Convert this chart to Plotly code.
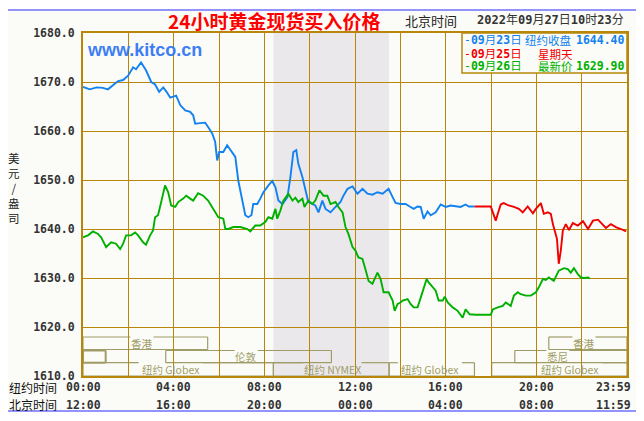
import plotly.graph_objects as go

# ---------------- data (NY time in hours, price USD/oz) ----------------
blue_hours = [0, 0.30, 0.60, 0.88, 1.10, 1.33, 1.55, 1.77, 1.99, 2.21, 2.34, 2.56, 2.78, 3.01,
              3.18, 3.36, 3.54, 3.67, 3.85, 4.11, 4.29, 4.51, 4.73, 4.86, 4.95, 5.17, 5.39, 5.52,
              5.70, 5.83, 5.92, 6.01, 6.19, 6.36, 6.50, 6.72, 6.85, 7.03, 7.16, 7.29, 7.43, 7.51,
              7.69, 7.82, 7.96, 8.18, 8.35, 8.49, 8.62, 8.80, 9.02, 9.15, 9.28, 9.41, 9.50, 9.68,
              9.81, 9.94, 10.12, 10.25, 10.39, 10.56, 10.70, 10.92, 11.14, 11.36, 11.49, 11.67,
              11.89, 12.11, 12.33, 12.55, 12.77, 12.99, 13.22, 13.48, 13.66, 13.79, 14.01, 14.23,
              14.45, 14.59, 14.76, 14.90, 15.03, 15.20, 15.34, 15.56, 15.78, 16.00, 16.22, 16.44,
              16.66, 16.88, 17.02, 17.28]
blue_values = [1669.0, 1668.5, 1668.9, 1668.8, 1668.5, 1669.4, 1670.2, 1670.4, 1671.3, 1673.0,
               1672.6, 1674.0, 1672.4, 1670.0, 1669.5, 1668.0, 1668.9, 1668.1, 1666.8, 1667.2,
               1665.3, 1664.2, 1663.9, 1663.2, 1661.5, 1661.6, 1661.7, 1660.8, 1659.5, 1657.8,
               1654.0, 1655.7, 1655.7, 1657.1, 1656.1, 1654.7, 1649.9, 1645.8, 1642.8, 1642.4,
               1642.8, 1645.1, 1645.1, 1646.2, 1647.5, 1648.9, 1649.8, 1648.5, 1645.8, 1645.1,
               1646.5, 1650.6, 1655.7, 1656.1, 1653.3, 1650.6, 1647.9, 1645.5, 1645.1, 1644.8,
               1643.4, 1645.8, 1644.1, 1643.4, 1644.5, 1645.5, 1646.8, 1648.2, 1648.7, 1647.2,
               1648.2, 1647.2, 1647.0, 1647.5, 1647.2, 1648.2, 1646.5, 1645.3, 1645.1, 1645.1,
               1644.5, 1644.1, 1644.6, 1644.5, 1642.1, 1643.6, 1642.8, 1643.4, 1645.0, 1644.5,
               1644.8, 1644.6, 1644.5, 1645.0, 1644.6, 1644.6]

red_hours = [17.28, 17.99, 18.08, 18.21, 18.30, 18.43, 18.56, 18.78, 19.01, 19.23, 19.40, 19.62,
             19.85, 19.98, 20.20, 20.33, 20.51, 20.64, 20.73, 20.82, 20.91, 20.99, 21.08, 21.17,
             21.30, 21.44, 21.61, 21.83, 22.06, 22.28, 22.50, 22.72, 22.94, 23.07, 23.29, 23.51,
             23.73, 23.96]
red_values = [1644.6, 1644.6, 1643.4, 1641.7, 1643.1, 1645.0, 1645.3, 1644.8, 1644.5, 1644.1,
              1643.4, 1644.6, 1643.2, 1644.1, 1645.3, 1643.1, 1643.4, 1643.1, 1641.0, 1639.3,
              1638.0, 1632.9, 1635.6, 1639.7, 1641.0, 1639.8, 1641.2, 1640.7, 1641.6, 1640.0,
              1641.7, 1641.9, 1640.7, 1640.2, 1641.0, 1640.4, 1640.0, 1639.5]

green_hours = [0, 0.22, 0.44, 0.66, 0.80, 1.02, 1.24, 1.46, 1.64, 1.77, 1.90, 2.12, 2.30, 2.43,
               2.65, 2.78, 2.96, 3.09, 3.18, 3.31, 3.45, 3.62, 3.76, 3.89, 4.07, 4.20, 4.42, 4.55,
               4.73, 4.86, 5.08, 5.30, 5.52, 5.75, 5.97, 6.19, 6.28, 6.41, 6.63, 6.94, 7.25, 7.38,
               7.60, 7.82, 8.04, 8.18, 8.35, 8.49, 8.57, 8.71, 8.84, 9.06, 9.24, 9.37, 9.50, 9.68,
               9.77, 9.94, 10.12, 10.25, 10.43, 10.61, 10.78, 10.92, 11.14, 11.27, 11.45, 11.58,
               11.71, 11.89, 12.02, 12.15, 12.33, 12.46, 12.60, 12.77, 12.91, 12.99, 13.13, 13.26,
               13.48, 13.66, 13.75, 13.88, 14.01, 14.10, 14.32, 14.45, 14.59, 14.76, 14.90, 15.03,
               15.16, 15.25, 15.43, 15.56, 15.69, 15.87, 15.96, 16.09, 16.31, 16.53, 16.75, 16.88,
               17.06, 17.33, 17.99, 18.08, 18.30, 18.52, 18.65, 18.87, 19.01, 19.18, 19.31, 19.54,
               19.76, 19.98, 20.11, 20.29, 20.42, 20.55, 20.77, 20.99, 21.22, 21.39, 21.52, 21.66,
               21.83, 21.97, 22.10, 22.28, 22.36]
green_values = [1638.3, 1638.7, 1639.5, 1639.0, 1638.3, 1636.3, 1637.3, 1637.0, 1635.9, 1637.0,
                1638.7, 1638.7, 1639.3, 1638.7, 1637.3, 1636.8, 1638.7, 1639.7, 1642.4, 1642.8,
                1645.5, 1648.9, 1647.5, 1644.8, 1644.5, 1645.5, 1646.2, 1646.8, 1646.2, 1645.8,
                1647.3, 1646.8, 1645.8, 1644.1, 1642.4, 1642.1, 1640.0, 1640.0, 1640.4, 1640.4,
                1640.0, 1639.5, 1640.7, 1640.7, 1641.4, 1642.4, 1642.1, 1644.1, 1642.1, 1643.8,
                1645.8, 1647.2, 1645.8, 1646.4, 1645.5, 1646.2, 1644.5, 1645.8, 1645.1, 1645.8,
                1647.9, 1646.8, 1646.8, 1645.1, 1645.5, 1644.5, 1643.4, 1640.4, 1639.0, 1636.3,
                1635.6, 1634.2, 1633.9, 1631.8, 1629.4, 1628.8, 1630.5, 1631.1, 1629.8, 1627.1,
                1627.1, 1625.4, 1623.3, 1624.7, 1625.0, 1625.4, 1625.7, 1624.7, 1624.0, 1624.0,
                1626.0, 1628.1, 1629.8, 1629.1, 1628.1, 1627.4, 1625.4, 1625.4, 1626.2, 1625.0,
                1624.0, 1623.3, 1621.9, 1623.6, 1622.6, 1622.5, 1622.5, 1623.6, 1624.0, 1624.3,
                1625.0, 1624.3, 1626.4, 1627.1, 1626.7, 1626.4, 1626.4, 1627.1, 1628.1, 1629.8,
                1629.6, 1630.1, 1629.4, 1631.5, 1632.0, 1631.8, 1631.1, 1632.0, 1630.8, 1630.1,
                1630.0, 1630.1, 1629.9]

close_0923 = 1644.40
last_0926 = 1629.90

ny_tick_hours = [0, 4, 8, 12, 16, 20, 24]
ny_tick_labels = ["00:00", "04:00", "08:00", "12:00", "16:00", "20:00", "23:59"]
bj_tick_labels = ["12:00", "16:00", "20:00", "00:00", "04:00", "08:00", "11:59"]

nymex_open, nymex_close = 8.4, 13.5

# market sessions: name, start hour, end hour, row, label centre hour
sessions = [
    ("香港", 0.0, 5.5, 0, 2.6),
    ("香港", 20.55, 24.0, 0, 22.1),
    ("", 0.0, 1.0, 1, None),
    ("伦敦", 3.65, 10.96, 1, 7.2),
    ("悉尼", 19.05, 24.0, 1, 20.95),
    ("纽约 Globex", 0.0, 8.4, 2, 3.87),
    ("纽约 NYMEX", 8.4, 13.5, 2, 11.0),
    ("纽约 Globex", 13.51, 17.27, 2, 15.3),
    ("纽约 Globex", 18.03, 24.0, 2, 21.5),
]

# ---------------- styling ----------------
W, H = 644, 421
OFF = 8                      # page body margin of the browser
PL, PR, PT, PB = 83, 627, 33, 376   # plot area in screen pixels
PW, PH = PR - PL, PB - PT
GRID = "#b8860b"
MKT = "#a09c68"
BG = "#fbfcf7"
SHADE = "#ebe8ec"
BLUE, RED, GREEN = "#1282f0", "#f00000", "#00b000"
MONO = "DejaVu Sans Mono, Noto Sans CJK SC"
CJK = "Noto Sans CJK SC"


def px_x(px):
    return (px - PL) / PW


def px_y(py):
    return (PB - py) / PH


def text_w(s, fs):
    return sum(fs if ord(c) > 255 else 0.56 * fs for c in s)


def ann(**kw):
    d = dict(showarrow=False, xanchor="center", yanchor="middle", xref="paper", yref="paper")
    d.update(kw)
    return d


fig = go.Figure()
for hx, vy, col in [(blue_hours, blue_values, BLUE), (red_hours, red_values, RED),
                    (green_hours, green_values, GREEN)]:
    fig.add_trace(go.Scatter(x=hx, y=vy, mode="lines", line=dict(color=col, width=1.9),
                             hoverinfo="skip", showlegend=False))

shapes = []
shapes.append(dict(type="rect", xref="paper", yref="paper", x0=px_x(7), x1=px_x(637),
                   y0=px_y(411), y1=px_y(10), line=dict(color="#7070ff", width=1.5),
                   fillcolor=BG, layer="below"))
shapes.append(dict(type="rect", xref="x", yref="paper", x0=nymex_open, x1=nymex_close,
                   y0=0, y1=1, line=dict(width=0), fillcolor=SHADE, layer="below"))

rows_px = [(337, 349.5), (350.5, 362.7), (362.7, 376)]
LBL_FS = 10.5
annotations = []
hour_px = PW / 24.0
for name, h0, h1, r, hc in sessions:
    top, bot = px_y(rows_px[r][0]), px_y(rows_px[r][1])
    lw = 2 if name == "" else 1.2
    segs = [(h0, bot, h0, top), (h1, bot, h1, top), (h0, bot, h1, bot)]
    if name and hc is not None:
        half = (text_w(name, LBL_FS) / 2 + 1) / hour_px
        segs.append((h0, top, hc - half, top))
        segs.append((hc + half, top, h1, top))
        annotations.append(ann(x=hc, y=(top + bot) / 2, xref="x", text=name, borderpad=0,
                               font=dict(family=CJK, size=LBL_FS, color=MKT)))
    else:
        segs.append((h0, top, h1, top))
    for xa, ya, xb, yb in segs:
        shapes.append(dict(type="line", xref="x", yref="paper", x0=xa, y0=ya, x1=xb, y1=yb,
                           line=dict(color=MKT, width=lw), layer="below"))

shapes.append(dict(type="rect", xref="paper", yref="paper", x0=px_x(462), x1=1.0,
                   y0=px_y(73), y1=1.0, line=dict(color=GRID, width=1.5),
                   fillcolor=BG, layer="above"))

annotations += [
    ann(x=px_x(273.5), y=px_y(20), text="<b>24小时黄金现货买入价格</b>",
        font=dict(family=CJK, size=19, color="#ff0000")),
    ann(x=px_x(431), y=px_y(20), text="北京时间", font=dict(family=CJK, size=13, color="#222222")),
    ann(x=px_x(626), y=px_y(20), xanchor="right",
        text="<b>2022</b>年<b>09</b>月<b>27</b>日<b>10</b>时<b>23</b>分",
        font=dict(family=MONO, size=12, color="#333333")),
    ann(x=px_x(85), y=px_y(50.5), xanchor="left", text="<b>www.kitco.cn</b>",
        font=dict(family="Liberation Sans", size=18, color="#3d7ef5")),
    ann(x=px_x(14), y=px_y(188), text="美<br>元<br>/<br>盎<br>司",
        font=dict(family=CJK, size=11.5, color="#222222")),
]

legend_rows = [
    (40.5, BLUE, "-<b>09</b>月<b>23</b>日", "纽约收盘", 548, "%.2f" % close_0923),
    (53.5, RED, "-<b>09</b>月<b>25</b>日", "星期天", 555, ""),
    (66.5, GREEN, "-<b>09</b>月<b>26</b>日", "最新价", 555, "%.2f" % last_0926),
]
for yy, col, d, lab, lx, val in legend_rows:
    annotations.append(ann(x=px_x(463), y=px_y(yy), xanchor="left", text=d, borderpad=0,
                           font=dict(family=MONO, size=11.5, color=col)))
    annotations.append(ann(x=px_x(lx), y=px_y(yy), text=lab, borderpad=0,
                           font=dict(family=CJK, size=11.5, color=col)))
    if val:
        annotations.append(ann(x=px_x(626), y=px_y(yy), xanchor="right", text="<b>%s</b>" % val,
                               borderpad=0, font=dict(family=MONO, size=11.5, color=col)))

for label, yy in [("纽约时间", 387), ("北京时间", 404.5)]:
    annotations.append(ann(x=px_x(59), y=px_y(yy), xanchor="right", text=label,
                           font=dict(family=CJK, size=12, color="#111111")))
for labels, yy in [(ny_tick_labels, 387), (bj_tick_labels, 404.5)]:
    for i, (hh, lab) in enumerate(zip(ny_tick_hours, labels)):
        last = i == len(labels) - 1
        annotations.append(ann(x=hh, y=px_y(yy), xref="x",
                               xanchor="right" if last else "center", xshift=6 if last else 0,
                               text="<b>%s</b>" % lab,
                               font=dict(family=MONO, size=11.5, color="#333333")))

fig.update_layout(
    width=W - OFF, height=H - OFF,
    margin=dict(l=PL - OFF, r=W - PR, t=PT - OFF, b=H - PB, pad=0),
    paper_bgcolor="#ffffff", plot_bgcolor=BG,
    shapes=shapes, annotations=annotations, showlegend=False,
    xaxis=dict(range=[0, 24], tickvals=list(range(0, 25, 2)), showticklabels=False,
               showgrid=True, gridcolor=GRID, gridwidth=1, zeroline=False,
               showline=True, linecolor=GRID, linewidth=2, mirror=True, ticks=""),
    yaxis=dict(range=[1610, 1680], dtick=10, tick0=1610, tickformat=".1f",
               showgrid=True, gridcolor=GRID, gridwidth=1, zeroline=False,
               showline=True, linecolor=GRID, linewidth=2, mirror=True, ticks="",
               ticklabelstandoff=4,
               tickfont=dict(family="DejaVu Sans Mono", size=11.5, color="#333333", weight="bold")),
)

fig.write_html("out.html", config={"displayModeBar": False})
